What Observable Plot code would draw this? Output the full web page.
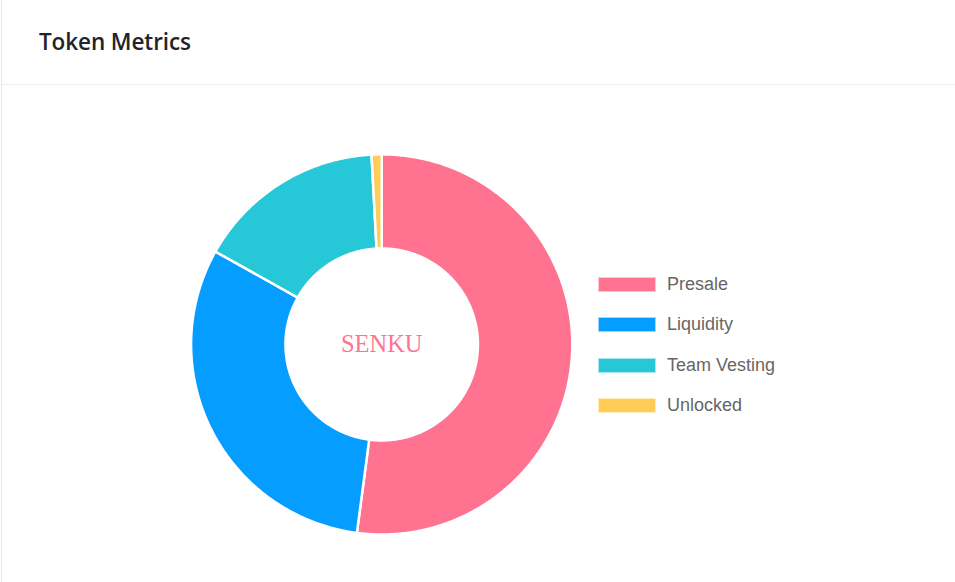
<!DOCTYPE html>
<html>
<head>
<meta charset="utf-8">
<script src="https://cdn.jsdelivr.net/npm/d3@7"></script>
<script src="https://cdn.jsdelivr.net/npm/@observablehq/plot@0.6"></script>
<style>
  html, body { margin: 0; padding: 0; background: #fff; }
  #card { position: relative; width: 954px; height: 582px; margin-left: 1px; border-left: 1px solid #e6e6e6; box-sizing: border-box; overflow: hidden; }
  #head { position: absolute; left: 0; top: 0; width: 100%; height: 85px; border-bottom: 1px solid #ececec; box-sizing: border-box; }
  #title { position: absolute; left: 37px; top: 26px; font-family: "Open Sans", "Noto Sans", sans-serif; font-weight: 600; font-size: 22.5px; color: #212529; letter-spacing: -0.1px; }
  #chart { position: absolute; left: -2px; top: 85px; }
  #legend { position: absolute; left: 596px; top: 264px; font-family: "Liberation Sans", Arial, sans-serif; font-size: 18px; color: #666; }
  .row { display: flex; align-items: center; height: 40.5px; }
  .sw { width: 58px; height: 15px; margin-right: 11px; box-sizing: border-box; border: 1px solid rgba(255,255,255,0.6); }
</style>
</head>
<body>
<div id="card">
  <div id="head"><div id="title">Token Metrics</div></div>
  <div id="chart"></div>
  <div id="legend"></div>
</div>
<script>
const categories = ["Presale", "Liquidity", "Team Vesting", "Unlocked"];
const values = [52, 31, 16, 0.85];
const colors = ["#ff7391", "#059dff", "#26c8d8", "#ffcd56"];
const centerLabel = "SENKU";

const innerRatio = 0.505;
const pie = d3.pie().sort(null).value(d => d.value)(categories.map((name, i) => ({name, value: values[i]})));

const pts = [];
for (const p of pie) {
  const a0 = p.startAngle, a1 = p.endAngle;
  const n = Math.max(4, Math.ceil((a1 - a0) / (Math.PI / 360)));
  for (let k = 0; k <= n; k++) {
    const a = a0 + (a1 - a0) * k / n;
    pts.push({name: p.data.name, x: Math.sin(a), y: Math.cos(a)});
  }
  for (let k = n; k >= 0; k--) {
    const a = a0 + (a1 - a0) * k / n;
    pts.push({name: p.data.name, x: innerRatio * Math.sin(a), y: innerRatio * Math.cos(a)});
  }
}

const chart = Plot.plot({
  width: 957,
  height: 497,
  margin: 0,
  x: {domain: [-1, 1], range: [191, 573], axis: null},
  y: {domain: [-1, 1], range: [450, 69], axis: null},
  color: {domain: categories, range: colors},
  marks: [
    Plot.line(pts, {x: "x", y: "y", z: "name", fill: "name", stroke: "white", strokeWidth: 2.5, curve: "linear-closed"}),
    Plot.text([centerLabel], {x: () => 0, y: () => 0, text: d => d, fill: "#ff7391", fontSize: 24.5, fontFamily: "Liberation Serif, Times New Roman, serif"})
  ]
});
document.getElementById("chart").appendChild(chart);

const legend = document.getElementById("legend");
categories.forEach((c, i) => {
  const row = document.createElement("div");
  row.className = "row";
  const sw = document.createElement("div");
  sw.className = "sw";
  sw.style.background = colors[i];
  const t = document.createElement("span");
  t.textContent = c;
  row.appendChild(sw); row.appendChild(t);
  legend.appendChild(row);
});
</script>
</body>
</html>
